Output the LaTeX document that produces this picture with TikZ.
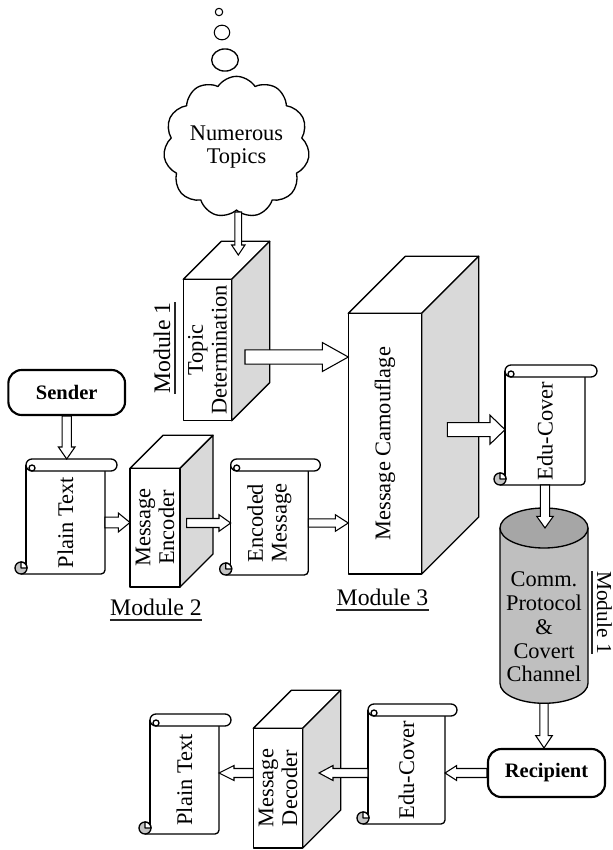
\documentclass[tikz,border=0pt]{standalone}
\usepackage{fontspec}
\setmainfont{Liberation Serif}
\usetikzlibrary{calc,shapes.symbols}

\definecolor{sidegray}{HTML}{D9D9D9}
\definecolor{cylbody}{HTML}{BFBFBF}
\definecolor{cyltop}{HTML}{A6A6A6}
\definecolor{curlgray}{HTML}{C4C4C4}

\tikzset{
  outline/.style={draw=black, line width=1pt, line join=round},
  txt/.style={font=\fontsize{16.8}{17.8}\selectfont, align=center, inner sep=0pt},
  vtxt/.style={txt, rotate=90},
  modlbl/.style={font=\fontsize{17.8}{20}\selectfont, inner xsep=0pt, inner ysep=3.4pt, anchor=base},
  modline/.style={draw=black!85, line width=1.1pt},
  terminal/.style={draw=black, line width=1.6pt, rounded corners=10pt,
    font=\bfseries\fontsize{15.4}{18}\selectfont, inner sep=0pt},
  arrowbody/.style={draw=black, line width=0.8pt, fill=white, line join=miter},
}

% 3D block: name, left, top, right, bottom (front face), depth
\newcommand\boxthreed[6]{%
  \node[inner sep=0pt, outer sep=0pt, minimum width={(#4-#2)*0.75pt},
        minimum height={(#5-#3)*0.75pt}] (#1) at ({(#2+#4)/2},{(#3+#5)/2}) {};
  \draw[outline, fill=white] (#1.north west) -- ++(#6,-#6) -- ++({#4-#2},0)
        -- (#1.north east) -- cycle;
  \draw[outline, fill=sidegray] (#1.north east) -- ++(#6,-#6) -- ++(0,{#5-#3})
        -- (#1.south east) -- cycle;
  \draw[outline, fill=white] (#1.north west) rectangle (#1.south east);
}

% vertical scroll sheet: name, left, top, right, bottom
\newcommand\scrollsheet[5]{%
  \node[inner sep=0pt, outer sep=0pt, minimum width={(#4-#2)*0.75pt},
        minimum height={(#5-#3-12)*0.75pt}] (#1) at ({(#2+#4)/2},{(#3+12+#5)/2}) {};
  \coordinate (#1-top) at ({(#2+#4)/2},#3);
  \fill[white] (#2,{#3+6}) -- (#2,{#5-6}) -- ({#2-5},#5) -- (#4,#5) -- (#4,{#3+6}) -- cycle;
  \draw[outline] (#2,{#3+6}) -- (#2,{#5-6});
  \draw[outline, rounded corners=3pt] ({#2-5},#5) -- (#4,#5) -- (#4,{#3+12});
  \draw[outline, fill=white, rounded corners=4.5pt] (#2,#3) rectangle ({#4+12},{#3+12});
  \draw[outline] ({#2+6},{#3+9}) circle[radius=2.25pt];
  \draw[outline, fill=curlgray] ({#2-5},{#5-6}) circle[radius=4.5pt];
  \draw[outline, fill=white] ({#2-5},{#5-6}) -- ({#2-5},{#5-12})
        arc[start angle=90, end angle=0, radius=4.5pt] -- cycle;
}

% hollow block arrow: start, end, shaft half width, head half width, head length
\newcommand\blockarrow[5]{%
  \draw[arrowbody] let \p1=(#1), \p2=(#2),
      \n1={atan2(\y2-\y1,\x2-\x1)}, \n2={veclen(\x2-\x1,\y2-\y1)} in
    [shift={(\p1)}, rotate=\n1]
    (0pt,{#3*0.75pt}) -- ({\n2-#5*0.75pt},{#3*0.75pt})
    -- ({\n2-#5*0.75pt},{#4*0.75pt}) -- ({\n2*1pt},0pt)
    -- ({\n2-#5*0.75pt},{-#4*0.75pt}) -- ({\n2-#5*0.75pt},{-#3*0.75pt})
    -- (0pt,{-#3*0.75pt}) -- cycle;
}

\begin{document}
\begin{tikzpicture}[x=0.75pt, y=-0.75pt]
\useasboundingbox (0,0) rectangle (612,850);

% thought bubbles and the topic cloud
\draw[outline, line width=0.8pt] (219,12) circle[radius=2.8pt];
\draw[outline, line width=0.8pt] (222,32.5) ellipse[x radius=5.8pt, y radius=5.5pt];
\draw[outline] (225,60) ellipse[x radius=10pt, y radius=8.3pt];
\node[cloud, outline, fill=white, cloud puffs=11, cloud puff arc=115, aspect=1.05,
      minimum width=107pt, minimum height=106pt, txt] (topics) at (236.5,147)
      {Numerous\\Topics};

% processing blocks
\boxthreed{td}{183.3}{279.3}{231.7}{420.7}{38}
\node[vtxt] (td-t) at (td) {Topic\\Determination};
\boxthreed{camo}{348.3}{313.3}{421.7}{574}{57}
\node[vtxt] (camo-t) at (camo) {Message Camouflage};
\boxthreed{enc}{130}{468.3}{180}{587}{33}
\node[vtxt] (enc-t) at (enc) {Message\\Encoder};
\boxthreed{dec}{253.3}{728.3}{302.7}{848}{38}
\node[vtxt] (dec-t) at (dec) {Message\\Decoder};

% documents
\scrollsheet{pt1}{26}{459}{105}{574}
\node[vtxt] (pt1-t) at (pt1) {Plain Text};
\scrollsheet{em}{230.7}{459}{308.3}{575}
\node[vtxt] (em-t) at (em) {Encoded\\Message};
\scrollsheet{ec1}{505}{365}{585}{485}
\node[vtxt] (ec1-t) at (ec1) {Edu-Cover};
\scrollsheet{ec2}{368}{704}{445}{824}
\node[vtxt] (ec2-t) at (ec2) {Edu-Cover};
\scrollsheet{pt2}{150}{714}{219}{834}
\node[vtxt] (pt2-t) at (pt2) {Plain Text};

% channel cylinder
\fill[cylbody] (500,528) -- (500,683.3)
  arc[start angle=180, end angle=360, x radius=33pt, y radius=15pt] -- (588,528) -- cycle;
\draw[outline] (500,528) -- (500,683.3)
  arc[start angle=180, end angle=360, x radius=33pt, y radius=15pt] -- (588,528);
\draw[outline, fill=cyltop] (544,528) ellipse[x radius=33pt, y radius=15pt];
\node[inner sep=0pt, outer sep=0pt, minimum width=66pt, minimum height={155.3*0.75pt}]
  (cyl) at (544,605.65) {};
\node[txt] (cyl-t) at (544,627) {Comm.\\Protocol\\\&\\Covert\\Channel};

% end points
\node[terminal, minimum width=87.5pt, minimum height=33.75pt] (sender) at (66.7,392.5) {Sender};
\node[terminal, minimum width=87.75pt, minimum height=36pt] (recipient) at (546.5,773) {Recipient};

% module labels
\node[modlbl, rotate=90] (mod1a) at (170,348) {Module 1};
\draw[modline] (mod1a.south west) -- (mod1a.south east);
\node[modlbl] (mod2) at (156,615) {Module 2};
\draw[modline] (mod2.south west) -- (mod2.south east);
\node[modlbl] (mod3) at (382.5,605) {Module 3};
\draw[modline] (mod3.south west) -- (mod3.south east);
\node[modlbl, rotate=-90, font=\fontsize{16}{18}\selectfont] (mod1b) at (597,612.5) {Module 1};
\draw[modline] (mod1b.south west) -- (mod1b.south east);

% flow arrows
\coordinate (a1s) at (238.3,212);
\coordinate (a1e) at (238.3,255);
\blockarrow{a1s}{a1e}{3.4}{6.7}{10}
\coordinate (a2s) at ($(td.east)+(13.3,7)$);
\blockarrow{a2s}{camo.west |- a2s}{7.2}{14.5}{26}
\coordinate (a3s) at ($(camo.east)+(25.6,-14)$);
\blockarrow{a3s}{ec1.west |- a3s}{7}{14.5}{15}
\blockarrow{sender.south}{sender.south |- pt1-top}{4.6}{8.3}{12}
\blockarrow{pt1.east}{enc.west |- pt1.east}{5.3}{9.5}{11.7}
\coordinate (a6s) at ($(enc.east |- em.west)+(6.7,0)$);
\blockarrow{a6s}{em.west}{4.5}{8.3}{11.7}
\blockarrow{em.east}{camo.west |- em.east}{4.2}{8.3}{13}
\blockarrow{ec1.south}{ec1.south |- cyl.north}{4.6}{8.3}{11.7}
\coordinate (cylbase) at ($(cyl.south)+(0,20)$);
\blockarrow{cylbase}{cylbase |- recipient.north}{4.2}{8.3}{12.3}
\blockarrow{recipient.west}{ec2.east |- recipient.west}{4.5}{7.5}{11.7}
\coordinate (a11e) at ($(dec.east |- recipient.west)+(16.3,0)$);
\blockarrow{ec2.west |- recipient.west}{a11e}{4.5}{7.5}{14}
\blockarrow{dec.west |- recipient.west}{pt2.east |- recipient.west}{4.5}{7.5}{15}
\end{tikzpicture}
\end{document}
